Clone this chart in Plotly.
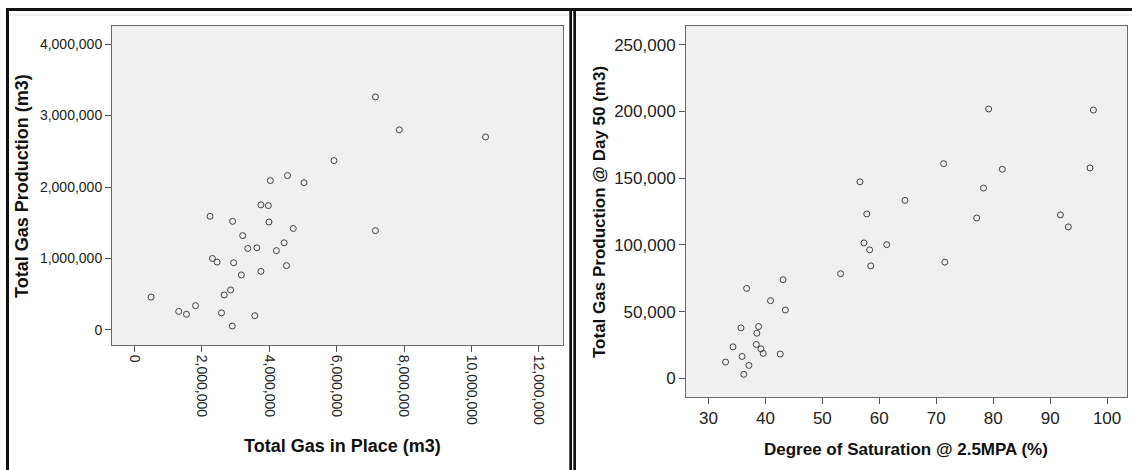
import plotly.graph_objects as go

# ---------------- data ----------------
gas_in_place = [7150000, 7860000, 10420000, 5920000, 4540000, 4030000, 5030000, 3750000,
                3970000, 2240000, 2910000, 3990000, 4710000, 7150000, 3210000, 3360000,
                3630000, 4210000, 4440000, 2310000, 2450000, 2940000, 3750000, 4510000,
                3170000, 2850000, 2660000, 490000, 1810000, 1310000, 1540000, 2580000,
                3570000, 2900000]
total_production = [3260000, 2800000, 2700000, 2370000, 2160000, 2090000, 2060000, 1750000,
                    1740000, 1590000, 1520000, 1510000, 1420000, 1390000, 1320000, 1140000,
                    1150000, 1110000, 1220000, 1000000, 950000, 940000, 820000, 900000,
                    770000, 560000, 490000, 460000, 340000, 260000, 220000, 240000,
                    200000, 55000]

saturation = [79.2, 97.6, 71.3, 81.6, 97.0, 56.6, 78.3, 64.5, 57.8, 77.1, 91.8, 93.2,
              57.3, 61.3, 58.3, 58.5, 71.5, 53.2, 43.1, 36.7, 40.9, 43.5, 35.7, 38.8,
              38.5, 34.3, 38.4, 39.2, 39.6, 42.6, 35.9, 33.0, 37.1, 36.2]
production_day50 = [201900, 201100, 160900, 156700, 157700, 147300, 142600, 133400, 123200,
                    120200, 122500, 113500, 101500, 100200, 96300, 84300, 87100, 78400,
                    73900, 67400, 58200, 51200, 37800, 38800, 33800, 23600, 25400, 22100,
                    18700, 18200, 16400, 12200, 9700, 3000]

left_x_ticks = [0, 2000000, 4000000, 6000000, 8000000, 10000000, 12000000]
left_y_ticks = [0, 1000000, 2000000, 3000000, 4000000]
right_x_ticks = [30, 40, 50, 60, 70, 80, 90, 100]
right_y_ticks = [0, 50000, 100000, 150000, 200000, 250000]

left_x_title = "Total Gas in Place (m3)"
left_y_title = "Total Gas Production (m3)"
right_x_title = "Degree of Saturation @ 2.5MPA (%)"
right_y_title = "Total Gas Production @ Day 50 (m3)"

# ---------------- layout helpers ----------------
W, H = 1132, 470
FONT = "Liberation Sans, Arial, sans-serif"


def px(x):
    return x / W


def py(y):
    return 1 - y / H


marker = dict(symbol="circle-open", size=6, color="#404040", line=dict(width=1, color="#404040"))

fig = go.Figure()
fig.add_trace(go.Scatter(x=gas_in_place, y=total_production, mode="markers",
                         marker=marker, xaxis="x", yaxis="y", showlegend=False))
fig.add_trace(go.Scatter(x=saturation, y=production_day50, mode="markers",
                         marker=marker, xaxis="x2", yaxis="y2", showlegend=False))

axis_common = dict(showgrid=False, zeroline=False, showline=True, mirror=True,
                   linecolor="#6a6a6a", linewidth=1, ticks="outside", ticklen=6,
                   tickcolor="#555555", tickwidth=1)

fig.update_layout(
    width=W, height=H,
    margin=dict(l=0, r=0, t=0, b=0),
    paper_bgcolor="white",
    plot_bgcolor="#f0f0f0",
    font=dict(family=FONT, color="#222222"),
    xaxis=dict(domain=[px(112), px(563)], anchor="y", range=[-671000, 12720000],
               tickvals=left_x_ticks, tickformat=",", tickangle=90,
               tickfont=dict(size=14, color="#222222"), **axis_common),
    yaxis=dict(domain=[py(345), py(26)], anchor="x", range=[-210000, 4252000],
               tickvals=left_y_ticks, tickformat=",",
               tickfont=dict(size=14, color="#222222"), **axis_common),
    xaxis2=dict(domain=[px(686), px(1127)], anchor="y2", range=[26.05, 103.5],
                tickvals=right_x_ticks,
                tickfont=dict(size=17, color="#222222"), **axis_common),
    yaxis2=dict(domain=[py(397), py(26)], anchor="x2", range=[-14000, 264100],
                tickvals=right_y_ticks, tickformat=",",
                tickfont=dict(size=17, color="#222222"), **axis_common),
)

title_font = dict(family=FONT, size=18, color="#111111", weight="bold")
title_font_r = dict(family=FONT, size=17, color="#111111", weight="bold")
fig.add_annotation(text=left_x_title, x=px(342), y=py(446), xref="paper", yref="paper",
                   showarrow=False, font=title_font, xanchor="center", yanchor="middle")
fig.add_annotation(text=left_y_title, x=px(22), y=py(186), xref="paper", yref="paper",
                   showarrow=False, font=title_font, textangle=-90,
                   xanchor="center", yanchor="middle")
fig.add_annotation(text=right_x_title, x=px(906), y=py(449), xref="paper", yref="paper",
                   showarrow=False, font=title_font_r, xanchor="center", yanchor="middle")
fig.add_annotation(text=right_y_title, x=px(599), y=py(212), xref="paper", yref="paper",
                   showarrow=False, font=title_font_r, textangle=-90,
                   xanchor="center", yanchor="middle")

# ---------------- frame decorations ----------------
shapes = []
# thin light line under top border
shapes.append(dict(type="rect", xref="paper", yref="paper", x0=px(9), x1=px(W), y0=py(15.5), y1=py(14.5),
                   fillcolor="#e2e2e2", line=dict(width=0), layer="below"))
# top thick border
shapes.append(dict(type="rect", xref="paper", yref="paper", x0=px(6), x1=px(W), y0=py(11), y1=py(8),
                   fillcolor="#111111", line=dict(width=0)))
# left thick border
shapes.append(dict(type="rect", xref="paper", yref="paper", x0=px(6), x1=px(9), y0=py(H), y1=py(8),
                   fillcolor="#111111", line=dict(width=0)))
# divider double line
shapes.append(dict(type="rect", xref="paper", yref="paper", x0=px(569.3), x1=px(572), y0=py(H), y1=py(8),
                   fillcolor="#111111", line=dict(width=0)))
shapes.append(dict(type="rect", xref="paper", yref="paper", x0=px(573.3), x1=px(576), y0=py(H), y1=py(8),
                   fillcolor="#111111", line=dict(width=0)))
fig.update_layout(shapes=shapes)

fig.write_html("out.html")
